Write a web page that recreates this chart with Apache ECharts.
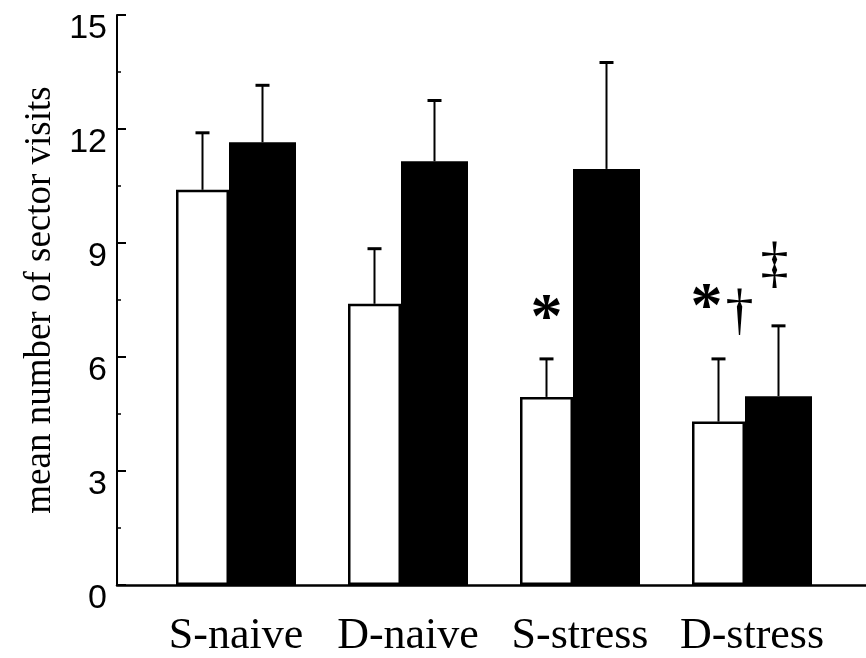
<!DOCTYPE html>
<html>
<head>
<meta charset="utf-8">
<script src="https://cdn.jsdelivr.net/npm/echarts@6/dist/echarts.min.js"></script>
<style>
  html, body { margin: 0; padding: 0; background: #fff; }
  #chart { width: 866px; height: 658px; }
</style>
</head>
<body>
<div id="chart"></div>
<script>
// Group labels along the x axis
var categories = ['S-naive', 'D-naive', 'S-stress', 'D-stress'];

// Open (white) bars: means and upper error
var openMeans = [10.4, 7.4, 4.95, 4.3];
var openErr   = [1.5, 1.45, 1.0, 1.65];

// Filled (black) bars: means and upper error
var filledMeans = [11.65, 11.15, 10.95, 4.97];
var filledErr   = [1.5, 1.6, 2.8, 1.85];

// y axis ticks
var yTicks = [0, 3, 6, 9, 12, 15];

// Significance marks: category index, symbol, height in data units
var markCats    = [2, 3, 3, 3];
var markSymbols = ['*', '*', '\u2020', '\u2021'];
var markLevels  = [6.95, 7.25, 7.15, 8.4];

// ---- layout / style constants ----
var OPEN_W = 53, FILLED_W = 67, OPEN_BORDER = 2.5;
var TOTAL_W = OPEN_W + FILLED_W;
var OPEN_OFF = -TOTAL_W / 2 + OPEN_W / 2;
var FILLED_OFF = -TOTAL_W / 2 + OPEN_W + FILLED_W / 2;
// horizontal nudges for each mark relative to the category centre
var markDx = [OPEN_OFF, OPEN_OFF - 12, OPEN_OFF + 21, FILLED_OFF - 4];
var markFont = [
  'bold 64px "Liberation Serif"',
  'bold 64px "Liberation Serif"',
  '56px "Liberation Serif"',
  '56px "Liberation Serif"'
];

function errorBars(offset) {
  return function (params, api) {
    var i = api.value(0), m = api.value(1), e = api.value(2);
    var base = api.coord([i, m]);
    var top = api.coord([i, m + e]);
    var x = base[0] + offset;
    return {
      type: 'group',
      children: [
        { type: 'line', shape: { x1: x, y1: base[1], x2: x, y2: top[1] },
          style: { stroke: '#000', lineWidth: 2 } },
        { type: 'line', shape: { x1: x - 7, y1: top[1], x2: x + 7, y2: top[1] },
          style: { stroke: '#000', lineWidth: 3 } }
      ]
    };
  };
}

function marks(params, api) {
  var k = params.dataIndex;
  var p = api.coord([api.value(0), api.value(1)]);
  return {
    type: 'text',
    x: p[0] + markDx[k],
    y: p[1],
    style: {
      text: markSymbols[k],
      fill: '#000',
      font: markFont[k],
      align: 'center',
      verticalAlign: 'middle'
    }
  };
}

var chart = echarts.init(document.getElementById('chart'), null, { renderer: 'canvas' });

chart.setOption({
  backgroundColor: '#fff',
  animation: false,
  grid: [
    { left: 117, right: 0, top: 15, bottom: 73 },
    { left: 150, right: 28, top: 15, bottom: 73 }
  ],
  xAxis: [
    {
      gridIndex: 0, type: 'value', min: 0, max: 1,
      axisLine: { show: true, lineStyle: { color: '#000', width: 2.5 } },
      axisTick: { show: false }, axisLabel: { show: false }, splitLine: { show: false }
    },
    {
      gridIndex: 1, type: 'category', data: categories,
      axisLine: { show: false }, axisTick: { show: false },
      axisLabel: {
        interval: 0, margin: 29, color: '#000',
        fontFamily: 'Liberation Serif', fontSize: 44
      }
    }
  ],
  yAxis: [
    {
      gridIndex: 0, type: 'value', min: yTicks[0], max: yTicks[yTicks.length - 1], interval: 3,
      name: 'mean number of sector visits',
      nameLocation: 'middle', nameGap: 58, nameRotate: 90,
      nameTextStyle: { fontFamily: 'Liberation Serif', fontSize: 37, color: '#000' },
      axisLine: { show: true, lineStyle: { color: '#000', width: 2 } },
      axisTick: { show: true, inside: true, length: 9, lineStyle: { color: '#000', width: 2 } },
      minorTick: { show: true, splitNumber: 2, length: 4, lineStyle: { color: '#000', width: 1.5 } },
      axisLabel: {
        margin: 10, color: '#000', fontFamily: 'Liberation Sans', fontSize: 34,
        verticalAlign: 'top', lineHeight: 28
      },
      splitLine: { show: false }
    },
    { gridIndex: 1, type: 'value', min: 0, max: 15, show: false }
  ],
  series: [
    {
      name: 'open', type: 'bar', xAxisIndex: 1, yAxisIndex: 1,
      data: openMeans, barWidth: OPEN_W, barGap: '0%',
      itemStyle: { color: '#fff', borderColor: '#000', borderWidth: OPEN_BORDER },
      z: 2
    },
    {
      name: 'filled', type: 'bar', xAxisIndex: 1, yAxisIndex: 1,
      data: filledMeans, barWidth: FILLED_W, barGap: '0%',
      itemStyle: { color: '#000' },
      z: 2
    },
    {
      type: 'custom', xAxisIndex: 1, yAxisIndex: 1, z: 3,
      renderItem: errorBars(OPEN_OFF),
      data: categories.map(function (c, i) { return [i, openMeans[i], openErr[i]]; })
    },
    {
      type: 'custom', xAxisIndex: 1, yAxisIndex: 1, z: 3,
      renderItem: errorBars(FILLED_OFF),
      data: categories.map(function (c, i) { return [i, filledMeans[i], filledErr[i]]; })
    },
    {
      type: 'custom', xAxisIndex: 1, yAxisIndex: 1, z: 4,
      renderItem: marks,
      data: markCats.map(function (c, k) { return [c, markLevels[k]]; })
    }
  ]
});
</script>
</body>
</html>
